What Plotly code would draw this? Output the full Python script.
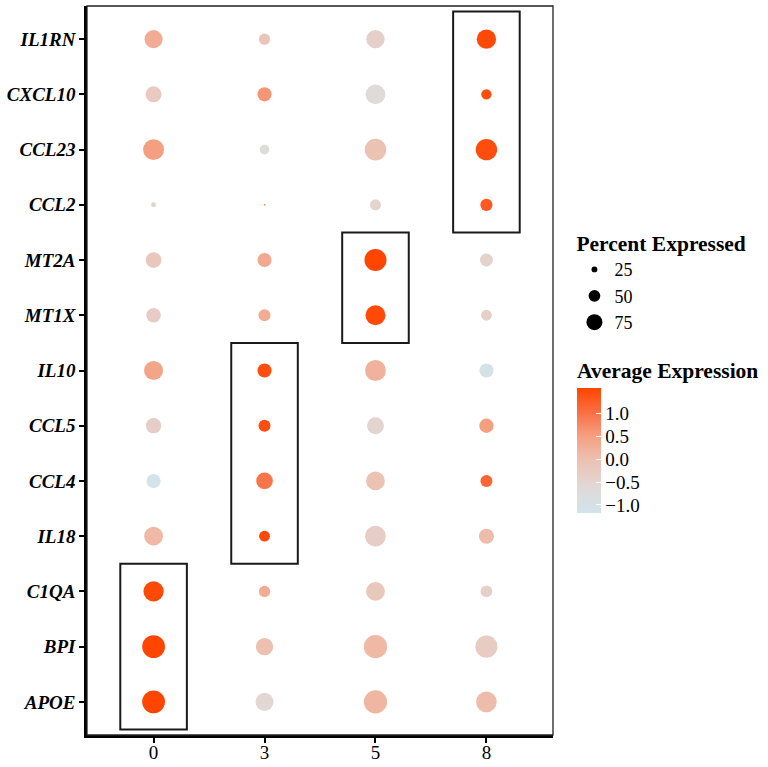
import plotly.graph_objects as go

# ---------------- data ----------------
genes = ["IL1RN", "CXCL10", "CCL23", "CCL2", "MT2A", "MT1X",
         "IL10", "CCL5", "CCL4", "IL18", "C1QA", "BPI", "APOE"]  # top -> bottom
clusters = ["0", "3", "5", "8"]

# Percent expressed (per cluster, genes top -> bottom)
pct_c0 = [77, 68, 89, 21, 67, 62, 81, 65, 60, 80, 86, 97, 97]
pct_c3 = [48, 60, 41, 7, 60, 51, 60, 51, 71, 46, 48, 74, 77]
pct_c5 = [78, 84, 92, 47, 94, 85, 89, 72, 80, 88, 80, 99, 99]
pct_c8 = [82, 44, 91, 52, 55, 46, 60, 61, 51, 64, 50, 94, 88]

# Average expression (scaled)
avg_c0 = [0.30, -0.25, 0.50, -0.50, -0.20, -0.30, 0.40, -0.35, -1.10, 0.10, 1.50, 1.55, 1.55]
avg_c3 = [-0.15, 0.60, -0.70, 1.00, 0.35, 0.30, 1.45, 1.45, 0.95, 1.50, 0.30, 0.00, -0.55]
avg_c5 = [-0.40, -0.70, -0.05, -0.50, 1.55, 1.50, 0.20, -0.50, -0.05, -0.35, -0.20, 0.10, 0.15]
avg_c8 = [1.50, 1.45, 1.45, 1.30, -0.45, -0.40, -1.05, 0.50, 1.15, 0.05, -0.40, -0.30, 0.05]

pct_by_cluster = [pct_c0, pct_c3, pct_c5, pct_c8]
avg_by_cluster = [avg_c0, avg_c3, avg_c5, avg_c8]

legend_sizes = [25, 50, 75]
colorbar_ticks = [-1.0, -0.5, 0.0, 0.5, 1.0]
color_min, color_max = -1.18, 1.55

# highlighted groups: (cluster, first gene, last gene)
highlights = [("0", "C1QA", "APOE"), ("3", "IL10", "IL18"),
              ("5", "MT2A", "MT1X"), ("8", "IL1RN", "CCL2")]

# ---------------- build ----------------
FONT = "Liberation Serif"
PX_PER_PCT = 0.235

xs, ys, sizes, cols = [], [], [], []
for c, pcts, avgs in zip(clusters, pct_by_cluster, avg_by_cluster):
    for g, p, a in zip(genes, pcts, avgs):
        xs.append(c)
        ys.append(g)
        sizes.append(p)
        cols.append(a)

colorscale = [
    [0.00, "rgb(208,228,236)"],
    [0.20, "rgb(224,218,216)"],
    [0.43, "rgb(237,192,176)"],
    [0.62, "rgb(245,158,128)"],
    [0.80, "rgb(250,112,70)"],
    [1.00, "rgb(255,69,0)"],
]

fig = go.Figure()
fig.add_trace(go.Scatter(
    x=xs, y=ys, mode="markers", showlegend=False,
    marker=dict(size=sizes, sizemode="diameter", sizeref=1 / PX_PER_PCT,
                color=cols, coloraxis="coloraxis", line=dict(width=0), opacity=1),
    hoverinfo="skip",
))

for s in legend_sizes:
    fig.add_trace(go.Scatter(
        x=[None], y=[None], mode="markers", name=str(s),
        marker=dict(size=s * PX_PER_PCT, color="black", line=dict(width=0)),
    ))

y_order = genes[::-1]
shapes = []
for c, g1, g2 in highlights:
    ix = clusters.index(c)
    iy = [y_order.index(g1), y_order.index(g2)]
    shapes.append(dict(type="rect", xref="x", yref="y",
                       x0=ix - 0.3, x1=ix + 0.3,
                       y0=min(iy) - 0.5, y1=max(iy) + 0.5,
                       line=dict(color="#1a1a1a", width=2), fillcolor="rgba(0,0,0,0)"))
shapes.append(dict(type="rect", xref="paper", yref="paper", x0=0, x1=1, y0=0, y1=1,
                   line=dict(color="#222", width=1.3), layer="above"))

fig.update_layout(
    width=768, height=767,
    margin=dict(l=87, r=215, t=6, b=32, autoexpand=False),
    paper_bgcolor="white", plot_bgcolor="white",
    font=dict(family=FONT, color="black", size=18),
    shapes=shapes,
    xaxis=dict(type="category", categoryorder="array", categoryarray=clusters,
               range=[-0.6, len(clusters) - 0.4], showgrid=False, zeroline=False,
               showline=True, linecolor="black", linewidth=2.5, automargin=False,
               ticks="outside", ticklen=5, tickwidth=1.5, tickcolor="black",
               ticklabelstandoff=-7,
               tickfont=dict(family=FONT, size=19, color="black")),
    yaxis=dict(type="category", categoryorder="array", categoryarray=y_order,
               range=[-0.6, len(genes) - 0.4], showgrid=False, zeroline=False,
               showline=True, linecolor="black", linewidth=2.5, automargin=False,
               ticks="outside", ticklen=5, tickwidth=1.5, tickcolor="black",
               tickfont=dict(family=FONT, size=19, color="black",
                             weight="bold", style="italic")),
    coloraxis=dict(
        colorscale=colorscale, cmin=color_min, cmax=color_max,
        colorbar=dict(
            title=dict(text="Average Expression", side="top",
                       font=dict(family=FONT, size=21.5, weight="bold", color="black")),
            x=1.0515, xanchor="left", xpad=0,
            y=0.5155, yanchor="top", ypad=0,
            lenmode="pixels", len=154, thicknessmode="pixels", thickness=24,
            outlinewidth=0,
            tickvals=colorbar_ticks, tickformat=".1f",
            ticks="inside", ticklen=5, tickcolor="white", tickwidth=1,
            tickfont=dict(family=FONT, size=19, color="black"),
        ),
    ),
    legend=dict(
        title=dict(text="Percent Expressed",
                   font=dict(family=FONT, size=21.5, weight="bold", color="black")),
        x=1.046, xanchor="left", y=0.702, yanchor="top",
        font=dict(family=FONT, size=18, color="black"),
        itemsizing="trace", tracegroupgap=0, bgcolor="rgba(0,0,0,0)",
    ),
)

fig.write_html("out.html", config={"displayModeBar": False},
               post_script="document.body.style.margin='0px';")
